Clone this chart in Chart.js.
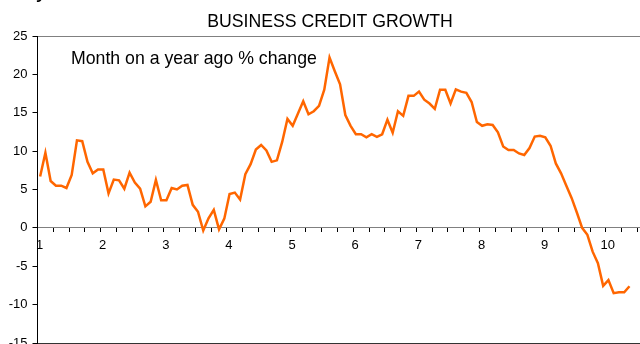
<!DOCTYPE html>
<html>
<head>
<meta charset="utf-8">
<script src="https://cdn.jsdelivr.net/npm/chart.js@4"></script>
<style>
  html, body { margin: 0; padding: 0; background: #fff; }
  #wrap { width: 640px; height: 344px; position: relative; }
</style>
</head>
<body>
<div id="wrap"><canvas id="creditChart"></canvas></div>
<script>
// monthly business credit growth, % change on a year ago
const growth = [
  6.7, 9.8, 6.1, 5.5, 5.5, 5.2, 6.9, 11.4, 11.3, 8.6, 7.1, 7.6,
  7.6, 4.5, 6.3, 6.2, 5.1, 7.2, 5.9, 5.1, 2.8, 3.4, 6.25, 3.6,
  3.6, 5.2, 5.0, 5.5, 5.6, 3.0, 2.1, -0.35, 1.25, 2.35, -0.2, 1.2,
  4.4, 4.6, 3.7, 7.0, 8.3, 10.2, 10.8, 10.1, 8.6, 8.8, 11.2, 14.2,
  13.3, 14.9, 16.5, 14.8, 15.2, 15.9, 18.0, 22.2, 20.4, 18.7, 14.7, 13.3,
  12.2, 12.2, 11.8, 12.2, 11.85, 12.2, 14.1, 12.4, 15.2, 14.6, 17.2, 17.2,
  17.75, 16.7, 16.2, 15.5, 18.0, 18.0, 16.2, 18.05, 17.75, 17.6, 16.4, 13.8,
  13.3, 13.5, 13.4, 12.45, 10.6, 10.15, 10.15, 9.7, 9.5, 10.4, 11.9, 12.0,
  11.8, 10.7, 8.4, 7.1, 5.5, 3.9, 2.0, 0.0, -0.9, -3.1, -4.6, -7.55,
  -6.8, -8.5, -8.4, -8.4, -7.6
];
const yearLabels = ['1', '2', '3', '4', '5', '6', '7', '8', '9', '10'];
const chartTitle = 'BUSINESS CREDIT GROWTH';
const note = 'Month on a year ago % change';

const FONT = '"Liberation Sans", Arial, sans-serif';

// each month sits in the middle of its slot on the axis
const points = growth.map((v, i) => ({ x: i + 0.5, y: v }));

const headings = {
  id: 'headings',
  afterDraw(chart) {
    const ctx = chart.ctx;
    ctx.save();
    ctx.fillStyle = '#000';
    ctx.textBaseline = 'alphabetic';
    ctx.font = 'bold 17px ' + FONT;
    ctx.textAlign = 'left';
    ctx.fillText('y', 36, -1);
    ctx.font = '17.7px ' + FONT;
    ctx.textAlign = 'center';
    ctx.fillText(chartTitle, 330, 26.5);
    ctx.textAlign = 'left';
    ctx.fillText(note, 71, 64);
    ctx.restore();
  }
};

// keep the plot area flush with the canvas edges
const noEdgePadding = s => {
  s.paddingTop = 0;
  s.paddingBottom = 0;
  s.paddingLeft = 0;
  s.paddingRight = 0;
};

new Chart(document.getElementById('creditChart'), {
  type: 'line',
  data: {
    datasets: [{
      label: 'Business credit',
      data: points,
      borderColor: '#ff6600',
      borderWidth: 2.5,
      pointRadius: 0,
      tension: 0,
      fill: false
    }]
  },
  options: {
    responsive: true,
    maintainAspectRatio: false,
    animation: false,
    layout: { padding: { top: 36, bottom: 1, left: 0, right: 0 } },
    plugins: { legend: { display: false }, tooltip: { enabled: false } },
    scales: {
      x: {
        type: 'linear',
        position: { y: 0 },
        min: 0,
        max: 114.5,
        afterFit: noEdgePadding,
        ticks: {
          stepSize: 3,
          autoSkip: false,
          includeBounds: false,
          maxRotation: 0,
          labelOffset: 2,
          padding: 6,
          color: '#000',
          font: { family: FONT, size: 13 },
          callback: v => (v % 12 === 0 ? yearLabels[v / 12] || '' : '')
        },
        grid: { drawOnChartArea: false, tickLength: 4, tickColor: '#000' },
        border: { color: '#808080', width: 1 }
      },
      y: {
        min: -15,
        max: 25,
        afterFit: s => { s.width = 37.5; noEdgePadding(s); },
        ticks: {
          stepSize: 5,
          padding: 5,
          color: '#000',
          font: { family: FONT, size: 13 }
        },
        grid: {
          color: c => c.tick && c.tick.value === 25 ? '#808080'
            : c.tick && c.tick.value === -15 ? '#333' : 'rgba(0,0,0,0)',
          tickColor: '#000',
          tickLength: 5
        },
        border: { color: '#000', width: 1 }
      }
    }
  },
  plugins: [headings]
});
</script>
</body>
</html>
